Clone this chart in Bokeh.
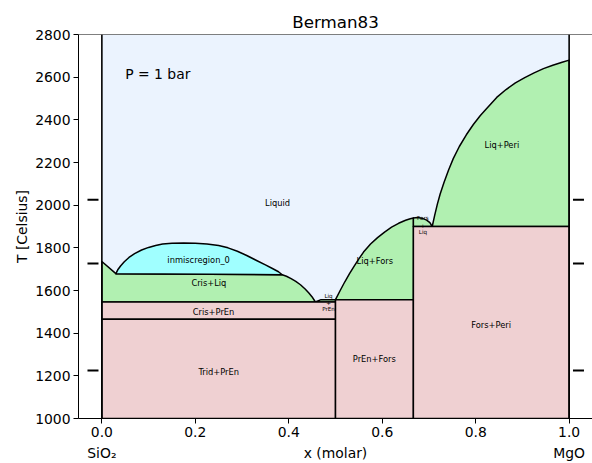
from bokeh.plotting import figure
from bokeh.models import ColumnDataSource, LinearAxis, FixedTicker, PrintfTickFormatter, Span, Range1d
from bokeh.core.properties import value
from bokeh.embed import file_html
from bokeh.resources import INLINE

# ---- MgO-SiO2 phase diagram at 1 bar (x = mole fraction MgO, T in Celsius) ----
T_LOW, T_HIGH = 1000, 2800

# invariant temperatures
T_TRID_CRIS = 1465
T_EUT_CRIS_PREN = 1546
T_PERI_PREN = 1557
T_EUT_FORS_PERI = 1900

# compositions of the solids
X_SIO2, X_PREN, X_FORS, X_PERI = 0.0, 0.5, 2.0 / 3.0, 1.0

# cristobalite liquidus (pure SiO2 melting down to the monotectic)
cris_liq_x = [0.000, 0.030]
cris_liq_T = [1736, 1679]

# liquid immiscibility dome (closed by the monotectic line)
dome_x = [0.030, 0.034, 0.040, 0.048, 0.058, 0.070, 0.085, 0.100, 0.115, 0.130, 0.150,
          0.175, 0.200, 0.225, 0.250, 0.270, 0.290, 0.310, 0.330, 0.350, 0.365, 0.378, 0.386]
dome_T = [1679, 1697, 1715, 1735, 1755, 1773, 1790, 1802, 1811, 1818, 1822,
          1823, 1822, 1818, 1811, 1800, 1784, 1764, 1742, 1720, 1703, 1688, 1674]

# cristobalite liquidus below the dome, down to the Cris+PrEn eutectic
cris_low_x = [0.386, 0.395, 0.405, 0.415, 0.425, 0.435, 0.443, 0.450, 0.457]
cris_low_T = [1674, 1667, 1656, 1643, 1627, 1607, 1588, 1570, 1546]

# protoenstatite sliver up to the peritectic
pren_liq_x = [0.457, 0.469]
pren_liq_T = [1546, 1557]

# forsterite liquidus (rising branch up to Fors, then the small branch down to the eutectic)
fors_liq_x = [0.500, 0.510, 0.520, 0.530, 0.540, 0.550, 0.560, 0.575, 0.590, 0.605, 0.620,
              0.635, 0.650, 0.660, 0.667]
fors_liq_T = [1557, 1600, 1641, 1679, 1714, 1748, 1780, 1818, 1848, 1874, 1897,
              1915, 1929, 1936, 1940]
fors_eut_x = [0.675, 0.685, 0.695, 0.702, 0.707]
fors_eut_T = [1942, 1939, 1930, 1918, 1900]

# periclase liquidus
peri_liq_x = [0.707, 0.712, 0.718, 0.724, 0.732, 0.742, 0.752, 0.765, 0.780, 0.795, 0.810,
              0.825, 0.845, 0.865, 0.885, 0.905, 0.925, 0.945, 0.965, 0.985, 1.000]
peri_liq_T = [1900, 1950, 2005, 2052, 2105, 2165, 2218, 2275, 2330, 2378, 2420,
              2457, 2505, 2542, 2573, 2598, 2620, 2640, 2656, 2670, 2680]

# region labels
label_names = ["Liquid", "inmiscregion_0", "Cris+Liq", "Cris+PrEn", "Trid+PrEn",
               "PrEn+Fors", "Liq+Fors", "Fors+Peri", "Liq+Peri"]
label_x = [0.376, 0.207, 0.229, 0.239, 0.250, 0.583, 0.584, 0.833, 0.856]
label_T = [2012, 1741, 1634, 1498, 1220, 1277, 1736, 1436, 2280]

# labels of the two tiny regions, one line each
tiny_names = ["Liq", "+", "PrEn", "Fors", "+", "Liq"]
tiny_x = [0.485, 0.485, 0.485, 0.687, 0.687, 0.687]
tiny_T = [1575, 1544, 1512, 1940, 1907, 1873]

# short marks beside both axes
mark_x = [-0.019, -0.019, -0.019, 1.020, 1.020, 1.020]
mark_T = [2025, 1727, 1225, 2025, 1727, 1225]

x_ticks = [0.0, 0.2, 0.4, 0.6, 0.8, 1.0]
T_ticks = [1000, 1200, 1400, 1600, 1800, 2000, 2200, 2400, 2600, 2800]

C_LIQ = "#ebf3fe"
C_TWO = "#b1f0b1"
C_SOL = "#efd0d2"
C_GAP = "#a0ffff"
FONT = "DejaVu Sans"

regions = {
    "Cris+Liq": ([0.0] + cris_liq_x + cris_low_x + [0.0],
                 [T_EUT_CRIS_PREN] + cris_liq_T + cris_low_T + [T_EUT_CRIS_PREN], C_TWO),
    "inmisc": (dome_x, dome_T, C_GAP),
    "Liq+PrEn": (pren_liq_x + [X_PREN, X_PREN],
                 pren_liq_T + [T_PERI_PREN, T_EUT_CRIS_PREN], C_TWO),
    "Liq+Fors": (fors_liq_x + [X_FORS], fors_liq_T + [T_PERI_PREN], C_TWO),
    "Fors+Liq": ([X_FORS] + fors_eut_x + [X_FORS],
                 [fors_liq_T[-1]] + fors_eut_T + [T_EUT_FORS_PERI], C_TWO),
    "Liq+Peri": (peri_liq_x + [X_PERI], peri_liq_T + [T_EUT_FORS_PERI], C_TWO),
    "Cris+PrEn": ([X_SIO2, X_PREN, X_PREN, X_SIO2],
                  [T_TRID_CRIS, T_TRID_CRIS, T_EUT_CRIS_PREN, T_EUT_CRIS_PREN], C_SOL),
    "Trid+PrEn": ([X_SIO2, X_PREN, X_PREN, X_SIO2],
                  [T_LOW, T_LOW, T_TRID_CRIS, T_TRID_CRIS], C_SOL),
    "PrEn+Fors": ([X_PREN, X_FORS, X_FORS, X_PREN],
                  [T_LOW, T_LOW, T_PERI_PREN, T_PERI_PREN], C_SOL),
    "Fors+Peri": ([X_FORS, X_PERI, X_PERI, X_FORS],
                  [T_LOW, T_LOW, T_EUT_FORS_PERI, T_EUT_FORS_PERI], C_SOL),
}

p = figure(width=592, height=463, output_backend="svg", toolbar_location=None,
           x_range=Range1d(-0.05, 1.05), y_range=Range1d(T_LOW, T_HIGH),
           min_border_left=78, min_border_right=0, min_border_top=34, min_border_bottom=45)
p.background_fill_color = "white"
p.border_fill_color = "white"
p.outline_line_color = None
p.xgrid.grid_line_color = None
p.ygrid.grid_line_color = None

# liquid field fills the whole composition range
p.quad(left=[X_SIO2], right=[X_PERI], bottom=[T_LOW], top=[T_HIGH],
       fill_color=C_LIQ, line_color=None)

src = ColumnDataSource(dict(
    xs=[v[0] for v in regions.values()],
    ys=[v[1] for v in regions.values()],
    color=[v[2] for v in regions.values()],
))
p.patches("xs", "ys", source=src, fill_color="color", line_color="black", line_width=1.5,
          line_join="round")

# pure end-member verticals
p.segment(x0=[X_SIO2, X_PERI], y0=[T_LOW, T_LOW], x1=[X_SIO2, X_PERI], y1=[T_HIGH, T_HIGH],
          line_color="black", line_width=1.6)

p.scatter(mark_x, mark_T, marker="dash", size=11, line_width=2, line_color="black")

p.text(label_x, label_T, text=label_names, text_font=value(FONT), text_font_size="8.3px",
       text_align="center", text_baseline="middle", text_color="black")
p.text(tiny_x, tiny_T, text=tiny_names, text_font=value(FONT), text_font_size="5.6px",
       text_align="center", text_baseline="middle", text_color="black")
p.text([0.05], [2617], text=["P = 1 bar"], text_font=value(FONT), text_font_size="13.9px",
       text_align="left", text_baseline="middle", text_color="black")

# top spine
p.add_layout(Span(location=T_HIGH, dimension="width", line_color="black", line_width=1))

p.title.text = "Berman83"
p.title.align = "center"
p.title.text_font = FONT
p.title.text_font_size = "16.7px"
p.title.text_font_style = "normal"
p.title.text_color = "black"
p.title.standoff = 5

xa = p.xaxis[0]
xa.ticker = FixedTicker(ticks=x_ticks)
xa.formatter = PrintfTickFormatter(format="%.1f")
ya = p.yaxis[0]
ya.ticker = FixedTicker(ticks=T_ticks)
ya.axis_label = "T [Celsius]"
for ax in (xa, ya):
    ax.minor_tick_line_color = None
    ax.major_tick_in = 0
    ax.major_tick_out = 5
    ax.major_label_standoff = 3
    ax.major_label_text_font = FONT
    ax.major_label_text_font_size = "13.9px"
    ax.major_label_text_color = "black"
    ax.axis_line_color = "black"
    ax.major_tick_line_color = "black"
ya.axis_label_text_font = FONT
ya.axis_label_text_font_size = "13.9px"
ya.axis_label_text_font_style = "normal"
ya.axis_label_text_color = "black"
ya.axis_label_standoff = 2

# second row under the ticks: end members and the axis title
xa2 = LinearAxis(ticker=FixedTicker(ticks=[0.0, 0.5, 1.0]),
                 major_label_overrides={0.0: "SiO₂", 0.5: "x (molar)", 1.0: "MgO"})
xa2.axis_line_color = None
xa2.major_tick_line_color = None
xa2.minor_tick_line_color = None
xa2.major_tick_in = 0
xa2.major_tick_out = 0
xa2.major_label_standoff = 5
xa2.major_label_text_font = FONT
xa2.major_label_text_font_size = "13.9px"
xa2.major_label_text_color = "black"
p.add_layout(xa2, "below")

open("out.html", "w").write(file_html(p, INLINE))
